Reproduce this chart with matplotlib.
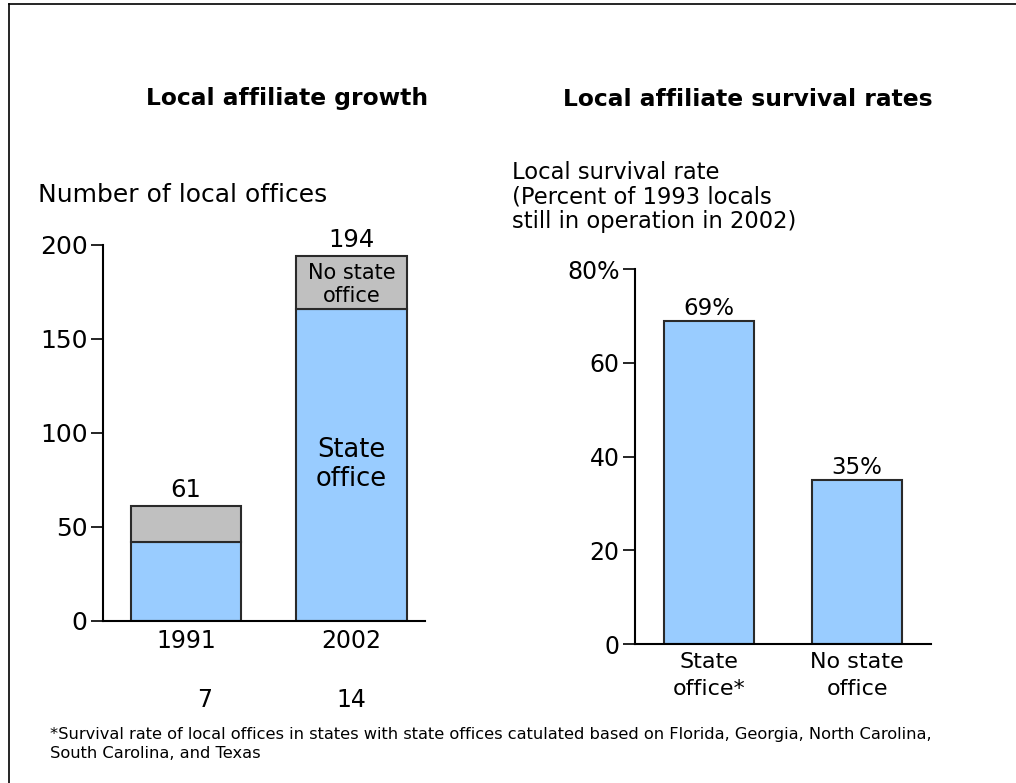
import numpy as np
import matplotlib.pyplot as plt
from matplotlib.lines import Line2D

# growth panel
years = ["1991", "2002"]
state_office = [42, 166]
no_state_office = [19, 28]
totals = [61, 194]
state_counts = ["7", "14"]

# survival panel
groups = ["State\noffice*", "No state\noffice"]
survival = [69, 35]

BLUE = "#99CCFF"
GREY = "#C0C0C0"
EDGE = "#2a2a2a"

plt.rcParams['font.family'] = ['DejaVu Sans']

fig = plt.figure(figsize=(10.16, 7.83), dpi=100)
W, H = 1016, 783

def ax_rect(x0, x1, ytop, ybot):
    return [x0 / W, 1 - ybot / H, (x1 - x0) / W, (ybot - ytop) / H]

def style(ax, xsize, ysize):
    for s in ["top", "right"]:
        ax.spines[s].set_visible(False)
    ax.spines["left"].set_linewidth(1.5)
    ax.spines["bottom"].set_linewidth(1.5)
    ax.tick_params(axis="y", length=9, width=1.2, labelsize=ysize, pad=2)
    ax.tick_params(axis="x", length=0, labelsize=xsize, pad=6)

# --- left: local affiliate growth ---
ax1 = fig.add_axes(ax_rect(103, 425, 245, 621))
x = np.arange(len(years))
ax1.bar(x, state_office, width=0.665, color=BLUE, edgecolor=EDGE, linewidth=1.5)
ax1.bar(x, no_state_office, bottom=state_office, width=0.665, color=GREY,
        edgecolor=EDGE, linewidth=1.5)
ax1.set_xlim(-0.5, 1.444)
ax1.set_ylim(0, 200)
ax1.set_yticks([0, 50, 100, 150, 200])
ax1.set_xticks(x)
ax1.set_xticklabels(years)
style(ax1, 17, 18)
for xi, t in zip(x, totals):
    ax1.text(xi, t + 2.5, str(t), ha="center", va="bottom", fontsize=17.5)
ax1.text(1, state_office[1] + no_state_office[1] / 2 - 1, "No state\noffice",
         ha="center", va="center", fontsize=15, linespacing=1.2)
ax1.text(1, 83, "State\noffice", ha="center", va="center", fontsize=18.5,
         linespacing=1.15)
for xi, c, dx in zip(x, state_counts, [0.115, 0.0]):
    ax1.text(xi + dx, -0.21, c, transform=ax1.get_xaxis_transform(), ha="center",
             va="center", fontsize=17)

# --- right: survival rates ---
ax2 = fig.add_axes(ax_rect(635, 931, 269, 644))
x2 = np.arange(len(groups))
ax2.bar(x2, survival, width=0.608, color=BLUE, edgecolor=EDGE, linewidth=1.5)
ax2.set_xlim(-0.5, 1.5)
ax2.set_ylim(0, 80)
ax2.set_yticks([0, 20, 40, 60, 80])
ax2.set_yticklabels(["0", "20", "40", "60", "80%"])
ax2.set_xticks(x2)
ax2.set_xticklabels(groups, linespacing=1.4)
style(ax2, 16, 17)
for xi, v in zip(x2, survival):
    ax2.text(xi, v + 0.2, f"{v}%", ha="center", va="bottom", fontsize=16.5)

# titles and axis captions
fig.text(287 / W, 1 - 99 / H, "Local affiliate growth", ha="center", va="center",
         fontsize=16.8, fontweight="bold")
fig.text(748 / W, 1 - 99 / H, "Local affiliate survival rates", ha="center",
         va="center", fontsize=16.8, fontweight="bold")
fig.text(38 / W, 1 - 195 / H, "Number of local offices", ha="left", va="center",
         fontsize=18)
fig.text(512 / W, 1 - 197 / H,
         "Local survival rate\n(Percent of 1993 locals\nstill in operation in 2002)",
         ha="left", va="center", fontsize=16.3, linespacing=1.08)

fig.text(50 / W, 1 - 744 / H,
         "*Survival rate of local offices in states with state offices catulated "
         "based on Florida, Georgia, North Carolina,\nSouth Carolina, and Texas",
         ha="left", va="center", fontsize=11.7, linespacing=1.35)

# frame lines (top and left)
fig.add_artist(Line2D([9 / W, 9 / W], [0, 1 - 4 / H], color="black", lw=1.2))
fig.add_artist(Line2D([9 / W, 1], [1 - 4 / H, 1 - 4 / H], color="black", lw=1.2))

fig.savefig("out.png", dpi=100)
